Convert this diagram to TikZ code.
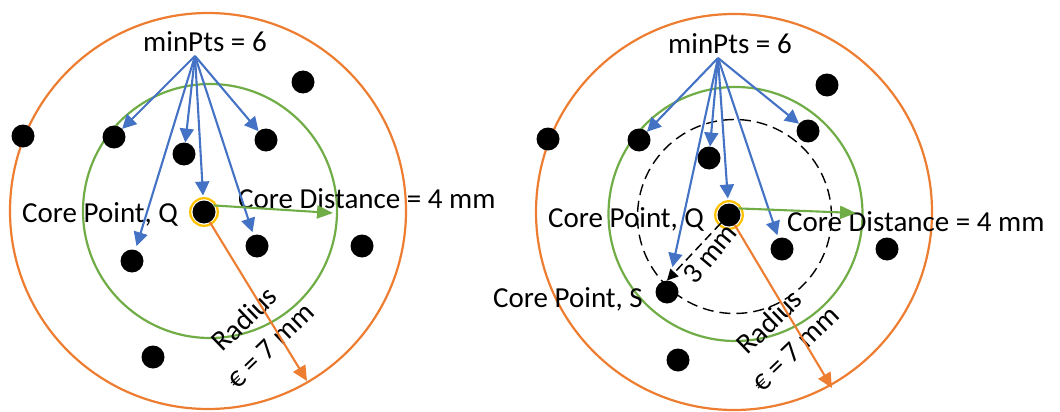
\documentclass[tikz,border=0pt]{standalone}
\usepackage{fontspec}
\setmainfont{Carlito}
\usetikzlibrary{arrows.meta}
\definecolor{epscol}{HTML}{ED7D31}
\definecolor{corecol}{HTML}{70AD47}
\definecolor{ptscol}{HTML}{4472C4}
\definecolor{qcol}{HTML}{FFC000}

\begin{document}
\begin{tikzpicture}[x=1pt,y=-1pt,
  every node/.style={font=\fontsize{29}{37}\selectfont},
  dot/.style={circle,fill=black,minimum size=23pt,inner sep=0pt,outer sep=0pt},
  txt/.style={anchor=base west,inner sep=0pt},
  epsring/.style={draw=epscol,line width=2.2pt},
  corering/.style={draw=corecol,line width=2.2pt},
  qring/.style={draw=qcol,line width=2.2pt},
  ptsarrow/.style={draw=ptscol,line width=2.1pt,-{Triangle[length=14pt,width=14pt]}},
  corearrow/.style={draw=corecol,line width=2.1pt,-{Triangle[length=16pt,width=13pt]}},
  epsarrow/.style={draw=epscol,line width=2.1pt,-{Triangle[length=15pt,width=14pt]}},
  reacharrow/.style={draw=black,line width=1.5pt,dash pattern=on 9pt off 5pt,-{Triangle[length=11pt,width=11pt]}}
]
\useasboundingbox (0,0) rectangle (1060,412);

% ---------------- left panel: core point Q ----------------
\draw[epsring] (208,211) circle (198pt);
\draw[corering] (210,211) circle (127pt);

\node[dot] (L1) at (114,137) {};
\node[dot] (L2) at (184,154) {};
\node[dot] (LQ) at (204,212) {};
\node[dot] (L4) at (266,140) {};
\node[dot] (L5) at (132,261) {};
\node[dot] (L6) at (257,246) {};
\node[dot] (L7) at (23,136) {};
\node[dot] (L8) at (303,82) {};
\node[dot] (L9) at (362,246) {};
\node[dot] (L10) at (153,357) {};
\draw[qring] (LQ) circle (13.8pt);

\node[txt] (Lmin) at (143,52) {minPts = 6};
\node[txt] (LQlab) at (22,222) {Core Point, Q};
\node[txt] (Lcd) at (238,208) {Core Distance = 4 mm};
\node[rotate=44,align=center,inner sep=0pt] (Lrad) at (257,332) {Radius\\€ = 7 mm};

\coordinate (Lsrc) at (195,56);
\draw[ptsarrow] (Lsrc) -- (L1);
\draw[ptsarrow] (Lsrc) -- (L2);
\draw[ptsarrow,shorten >=5pt] (Lsrc) -- (LQ);
\draw[ptsarrow] (Lsrc) -- (L4);
\draw[ptsarrow,shorten >=4pt] (Lsrc) -- (L5);
\draw[ptsarrow,shorten >=3pt] (Lsrc) -- (L6);

\coordinate (Lcdend) at (333,213);
\draw[corearrow] (LQ.35) -- (Lcdend);
\coordinate (Lradend) at (307,381);
\draw[epsarrow] (LQ.-60) -- (Lradend);

% ---------------- right panel: core point Q reaching S ----------------
\draw[epsring] (734,212) circle (198pt);
\draw[corering] (735.5,214) circle (127pt);
\draw[line width=1.4pt,dash pattern=on 11pt off 6pt] (734.5,216.5) circle (97pt);

\node[dot] (R1) at (639,140) {};
\node[dot] (R2) at (709,158) {};
\node[dot] (RQ) at (729,215) {};
\node[dot] (R4) at (808,131) {};
\node[dot] (RS) at (667,292) {};
\node[dot] (R6) at (782,249) {};
\node[dot] (R7) at (548,139) {};
\node[dot] (R8) at (827,85) {};
\node[dot] (R9) at (887,249) {};
\node[dot] (R10) at (678,360) {};
\draw[qring] (RQ) circle (13.8pt);

\node[txt] (Rmin) at (668,53) {minPts = 6};
\node[txt] (RQlab) at (548,227) {Core Point, Q};
\node[txt] (RSlab) at (493,307) {Core Point, S};
\node[txt] (Rcd) at (787,231) {Core Distance = 4 mm};
\node[rotate=44,align=center,inner sep=0pt] (Rrad) at (782,335) {Radius\\€ = 7 mm};
\node[rotate=50,inner sep=0pt] (Rreach) at (710,254) {3 mm};

\coordinate (Rsrc) at (718,58);
\draw[ptsarrow] (Rsrc) -- (R1);
\draw[ptsarrow] (Rsrc) -- (R2);
\draw[ptsarrow,shorten >=5pt] (Rsrc) -- (RQ);
\draw[ptsarrow] (Rsrc) -- (R4);
\draw[ptsarrow,shorten >=14pt] (Rsrc) -- (RS);
\draw[ptsarrow,shorten >=3pt] (Rsrc) -- (R6);

\coordinate (Rcdend) at (856,213);
\draw[corearrow] (RQ.35) -- (Rcdend);
\coordinate (Rradend) at (832,388);
\draw[epsarrow] (RQ.-60) -- (Rradend);
\draw[reacharrow] (RQ.south west) -- (RS.north);
\end{tikzpicture}
\end{document}
